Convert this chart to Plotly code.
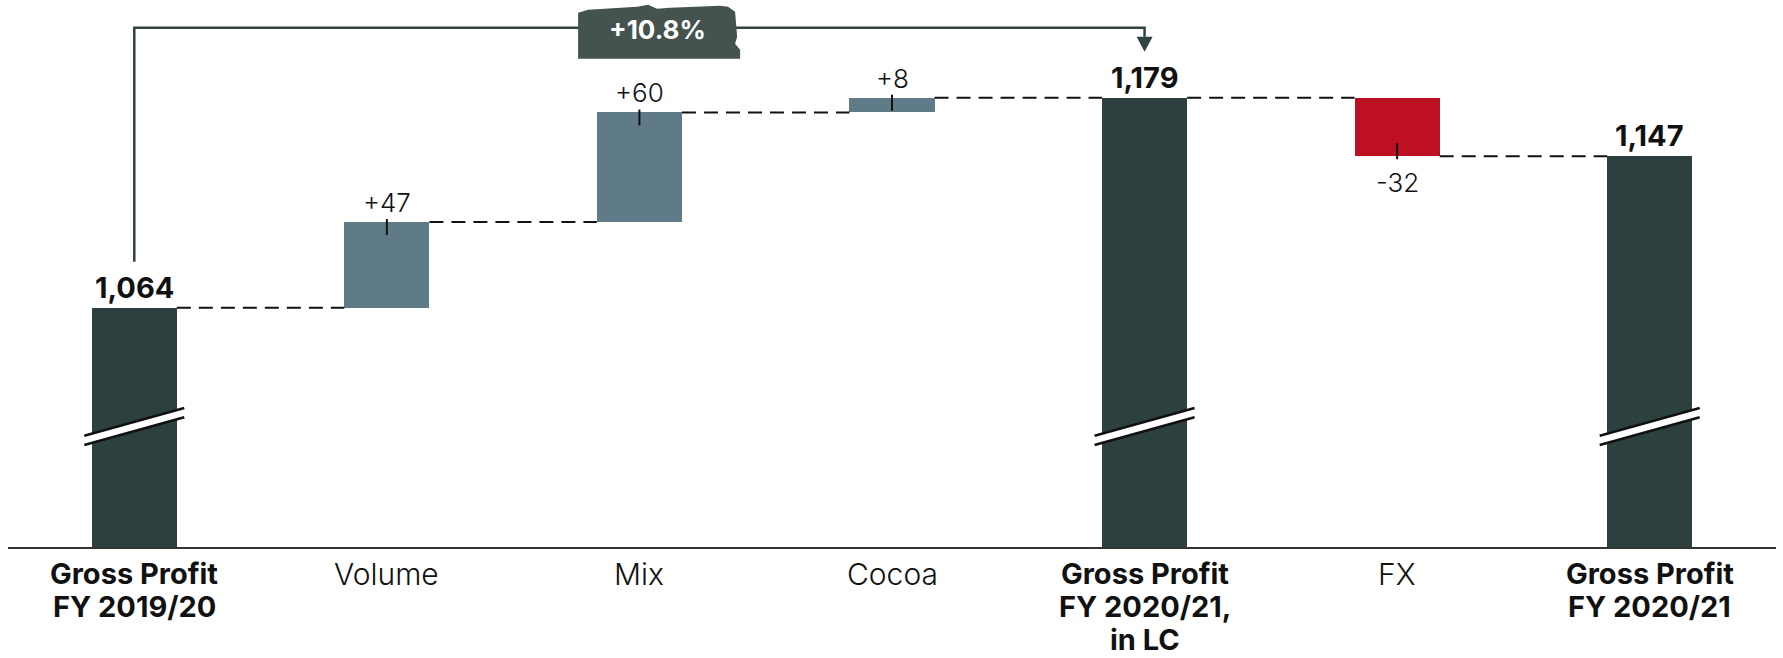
import plotly.graph_objects as go

# ---------------- data ----------------
categories = ["Gross Profit FY 2019/20", "Volume", "Mix", "Cocoa",
              "Gross Profit FY 2020/21, in LC", "FX", "Gross Profit FY 2020/21"]
tick_lines = [["Gross Profit", "FY 2019/20"], ["Volume"], ["Mix"], ["Cocoa"],
              ["Gross Profit", "FY 2020/21,", "in LC"], ["FX"],
              ["Gross Profit", "FY 2020/21"]]
tick_bold = [True, False, False, False, True, False, True]
measures = ["absolute", "relative", "relative", "relative", "total", "relative", "total"]
deltas = [1064, 47, 60, 8, None, -32, None]
value_labels = ["1,064", "+47", "+60", "+8", "1,179", "-32", "1,147"]
growth_label = "+10.8%"

# ---------------- style ----------------
C_TOTAL = "#2c413f"
C_UP = "#607b88"
C_DOWN = "#bd1023"
C_BADGE = "#45534f"
C_BRACKET = "#2f4442"
FONT = "Inter"

W, H = 1783, 658
M_L, M_R, M_T, M_B = 8, 7, 0, 111
Y_MIN, Y_MAX = 933, 1232.6
BAR_W = 0.337

plot_w = W - M_L - M_R
plot_h = H - M_T - M_B
n = len(categories)
px_x = plot_w / n
px_y = plot_h / (Y_MAX - Y_MIN)


def dx(p):
    return p / px_x


def dy(p):
    return p / px_y


# running levels
bases, tops, kinds = [], [], []
level = 0
for m, d in zip(measures, deltas):
    if m == "absolute":
        level = d
        bases.append(0); tops.append(d); kinds.append("total")
    elif m == "relative":
        bases.append(level); tops.append(level + d)
        kinds.append("up" if d >= 0 else "down")
        level = level + d
    else:
        bases.append(0); tops.append(level); kinds.append("total")
ends = list(tops)
colors = [C_TOTAL if k == "total" else (C_UP if k == "up" else C_DOWN) for k in kinds]
xs = list(range(n))

fig = go.Figure()
fig.add_trace(go.Bar(
    x=xs, y=[t - b for t, b in zip(tops, bases)], base=bases,
    width=BAR_W, marker=dict(color=colors, line=dict(width=0)),
    hoverinfo="skip", showlegend=False,
))

shapes = []
annotations = []
hw = BAR_W / 2

# dashed connectors
for i in range(n - 1):
    lv = ends[i]
    shapes.append(dict(type="line", xref="x", yref="y",
                       x0=i + hw, x1=i + 1 - hw, y0=lv, y1=lv,
                       line=dict(color="#111111", width=2, dash="14px,8px"), layer="above"))

# axis-break marks on total bars
BREAK_Y = 999
bx = dx(50)
bs = dy(13.85)
bo = dy(4.6)
for i, k in enumerate(kinds):
    if k != "total":
        continue
    xl, xr = i - bx, i + bx
    shapes.append(dict(type="path", xref="x", yref="y",
                       path=f"M {xl},{BREAK_Y - bo - bs} L {xr},{BREAK_Y - bo + bs} "
                            f"L {xr},{BREAK_Y + bo + bs} L {xl},{BREAK_Y + bo - bs} Z",
                       fillcolor="white", line=dict(width=0), layer="above"))
    for s in (1, -1):
        shapes.append(dict(type="line", xref="x", yref="y",
                           x0=xl, x1=xr, y0=BREAK_Y + s * bo - bs, y1=BREAK_Y + s * bo + bs,
                           line=dict(color="#111111", width=2.5), layer="above"))

# value labels + small ticks
for i, k in enumerate(kinds):
    if k == "total":
        annotations.append(dict(x=i, y=tops[i], xref="x", yref="y", text=f"<b>{value_labels[i]}</b>",
                                showarrow=False, yanchor="bottom", yshift=1,
                                font=dict(family=FONT, size=29, color="#111111")))
    elif k == "up":
        shapes.append(dict(type="line", xref="x", yref="y", x0=i, x1=i,
                           y0=tops[i] + dy(3), y1=tops[i] - dy(13),
                           line=dict(color="#111111", width=2), layer="above"))
        annotations.append(dict(x=i, y=tops[i], xref="x", yref="y", text=value_labels[i],
                                showarrow=False, yanchor="bottom", yshift=2,
                                font=dict(family=FONT, size=26, color="#111111", weight=300)))
    else:
        shapes.append(dict(type="line", xref="x", yref="y", x0=i, x1=i,
                           y0=tops[i] - dy(3), y1=tops[i] + dy(13),
                           line=dict(color="#111111", width=2), layer="above"))
        annotations.append(dict(x=i, y=tops[i], xref="x", yref="y", text=value_labels[i],
                                showarrow=False, yanchor="top", yshift=-9,
                                font=dict(family=FONT, size=26, color="#111111", weight=300)))

# category labels (one annotation per line for tight spacing)
LINE_PITCH = 33
for i, lines in enumerate(tick_lines):
    for j, ln in enumerate(lines):
        bold = tick_bold[i]
        annotations.append(dict(
            x=i, y=0, xref="x", yref="paper",
            text=f"<b>{ln}</b>" if bold else ln, showarrow=False,
            yanchor="top", yshift=-7 - j * LINE_PITCH,
            font=dict(family=FONT, size=29 if bold else 30, color="#111111",
                      weight=700 if bold else 300)))

# growth bracket
first_total = 0
lc_total = kinds.index("total", 1)
BRACKET_Y = tops[first_total] + dy(280)
start_y = tops[first_total] + dy(46)
arrow_top = BRACKET_Y - dy(9)
arrow_tip = BRACKET_Y - dy(24)
shapes.append(dict(type="path", xref="x", yref="y",
                   path=f"M {first_total},{start_y} L {first_total},{BRACKET_Y} "
                        f"L {lc_total},{BRACKET_Y} L {lc_total},{arrow_top}",
                   line=dict(color=C_BRACKET, width=2.5), layer="above"))
shapes.append(dict(type="path", xref="x", yref="y",
                   path=f"M {lc_total - dx(8)},{arrow_top} L {lc_total + dx(8)},{arrow_top} "
                        f"L {lc_total},{arrow_tip} Z",
                   fillcolor=C_BRACKET, line=dict(width=0), layer="above"))

# badge
bcx = 2.07
bcy = BRACKET_Y - dy(4)
outline = [(-79, 27), (-79, -19), (-69, -22), (-20, -25), (-9, -27), (0, -23), (13, -24),
           (63, -26), (71, -25), (78, -20), (80, 5), (78, 12), (83, 18), (83, 27)]
pts = [(bcx + dx(a), bcy - dy(b)) for a, b in outline]
path = "M " + " L ".join(f"{x},{y}" for x, y in pts) + " Z"
shapes.append(dict(type="path", xref="x", yref="y", path=path,
                   fillcolor=C_BADGE, line=dict(width=0), layer="above"))
annotations.append(dict(x=bcx, y=bcy, xref="x", yref="y", text=f"<b>{growth_label}</b>",
                        showarrow=False, yanchor="middle", yshift=2,
                        font=dict(family=FONT, size=26, color="white")))

fig.update_layout(
    width=W, height=H,
    margin=dict(l=M_L, r=M_R, t=M_T, b=M_B),
    paper_bgcolor="white", plot_bgcolor="white",
    xaxis=dict(range=[-0.5, n - 0.5], showticklabels=False, showgrid=False, zeroline=False,
               showline=True, linecolor="#333333", linewidth=2, ticks=""),
    yaxis=dict(range=[Y_MIN, Y_MAX], visible=False),
    shapes=shapes, annotations=annotations,
    bargap=0, showlegend=False,
)

fig.write_html("out.html")
